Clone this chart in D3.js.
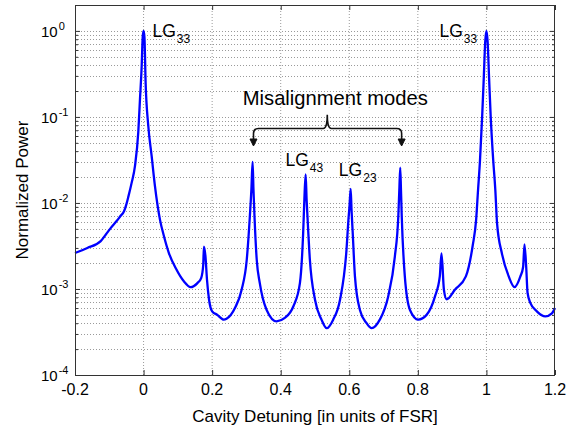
<!DOCTYPE html>
<html>
<head>
<meta charset="utf-8">
<script src="https://cdn.jsdelivr.net/npm/d3@7"></script>
<style>
  body { margin: 0; background: #fff; }
  svg { display: block; font-family: "Liberation Sans", Arial, Helvetica, sans-serif; }
</style>
</head>
<body>
<svg id="svg" width="578" height="431"></svg>
<script>
// cavity detuning (units of FSR) and normalized transmitted power
var detuning = [
  -0.200, -0.164, -0.125, -0.110, -0.096, -0.078, -0.068, -0.057, -0.050, -0.044,
  -0.035, -0.025, -0.0155, -0.0105, -0.0055, -0.0025, 0.000, 0.0025, 0.006, 0.0137,
  0.0236, 0.0332, 0.0478, 0.0595, 0.0741, 0.0936, 0.118, 0.137, 0.157, 0.168,
  0.174, 0.176, 0.1805, 0.185, 0.191, 0.200, 0.215, 0.234, 0.242, 0.2665,
  0.286, 0.301, 0.310, 0.3145, 0.318, 0.3205, 0.3235, 0.330, 0.339, 0.359,
  0.388, 0.412, 0.437, 0.456, 0.4655, 0.469, 0.4727, 0.4755, 0.478, 0.485,
  0.500, 0.519, 0.534, 0.553, 0.573, 0.592, 0.5975, 0.6005, 0.604, 0.6065,
  0.610, 0.6165, 0.631, 0.6505, 0.665, 0.689, 0.7135, 0.733, 0.743, 0.746,
  0.7486, 0.7507, 0.753, 0.762, 0.777, 0.801, 0.8255, 0.850, 0.864, 0.869,
  0.876, 0.884, 0.908, 0.940, 0.960, 0.970, 0.9755, 0.981, 0.9875, 0.9925,
  0.9965, 1.000, 1.0035, 1.0075, 1.0125, 1.019, 1.026, 1.031, 1.045, 1.065,
  1.082, 1.099, 1.107, 1.111, 1.116, 1.120, 1.128, 1.147, 1.172, 1.191,
  1.200
];
var power = [
  0.00262, 0.0030, 0.0036, 0.0043, 0.0051, 0.0062, 0.0070, 0.0080, 0.0097, 0.012,
  0.017, 0.027, 0.066, 0.16, 0.39, 0.85, 1.0, 0.85, 0.25, 0.079,
  0.035, 0.0157, 0.0064, 0.0041, 0.0026, 0.00175, 0.00122, 0.00105, 0.00117, 0.00134,
  0.0019, 0.0031, 0.0024, 0.00128, 0.00075, 0.00055, 0.00050, 0.00044, 0.00045, 0.00060,
  0.00098, 0.0022, 0.0070, 0.0144, 0.030, 0.0144, 0.0070, 0.0022, 0.00117, 0.00057,
  0.00042, 0.00046, 0.00063, 0.00117, 0.0045, 0.011, 0.0215, 0.011, 0.0070, 0.0022,
  0.00075, 0.00044, 0.00035, 0.00044, 0.00075, 0.0029, 0.0064, 0.0090, 0.0146, 0.0084,
  0.0045, 0.0014, 0.00057, 0.00040, 0.00035, 0.00044, 0.00082, 0.0024, 0.0070, 0.0144,
  0.0257, 0.0144, 0.0070, 0.0014, 0.00057, 0.00044, 0.00050, 0.00082, 0.0014, 0.0026,
  0.00098, 0.00076, 0.00098, 0.0014, 0.0032, 0.0064, 0.014, 0.030, 0.10, 0.30,
  0.75, 1.0, 0.75, 0.30, 0.10, 0.035, 0.014, 0.0058, 0.0026, 0.0014,
  0.00105, 0.0014, 0.0018, 0.0033, 0.0018, 0.0009, 0.00069, 0.00055, 0.00048, 0.00052,
  0.0006
];

var xTicks = [-0.2, 0, 0.2, 0.4, 0.6, 0.8, 1, 1.2];
var xTickLabels = ['-0.2', '0', '0.2', '0.4', '0.6', '0.8', '1', '1.2'];
var yTicks = [1e-4, 1e-3, 1e-2, 1e-1, 1];
var yTickExponents = ['-4', '-3', '-2', '-1', '0'];

var margin = {top: 5, right: 23, bottom: 56, left: 75};
var width = 578 - margin.left - margin.right;
var height = 431 - margin.top - margin.bottom;

var svg = d3.select('#svg');
var g = svg.append('g').attr('transform', 'translate(' + margin.left + ',' + margin.top + ')');

var x = d3.scaleLinear().domain([-0.2, 1.2]).range([0, width]);
var y = d3.scaleLog().domain([1e-4, 2]).range([height, 0]);

// minor log positions 2..9 in every decade
var yMinor = [];
yTicks.forEach(function(t) {
  for (var k = 2; k <= 9; k++) if (t * k < 2) yMinor.push(t * k);
});

// grid
var grid = g.append('g').attr('class', 'grid');
grid.selectAll('line.gx').data(xTicks.slice(1, -1)).enter().append('line')
    .attr('x1', function(d) { return x(d); }).attr('x2', function(d) { return x(d); })
    .attr('y1', 0).attr('y2', height);
grid.selectAll('line.gy').data(yTicks.concat(yMinor).filter(function(d) { return d > 1e-4; })).enter().append('line')
    .attr('x1', 0).attr('x2', width)
    .attr('y1', function(d) { return Math.round(y(d)) + 0.5; }).attr('y2', function(d) { return Math.round(y(d)) + 0.5; });
grid.selectAll('line')
    .attr('stroke', '#9a9a9a').attr('stroke-width', 1).attr('stroke-dasharray', '1,2');

// inward ticks on all four sides
function ticks(axis, tr) {
  var a = g.append('g').attr('transform', tr).call(axis);
  a.select('.domain').remove();
  a.selectAll('line').attr('stroke', '#333');
  a.selectAll('text').remove();
}
ticks(d3.axisBottom(x).tickValues(xTicks).tickSize(-5), 'translate(0,' + height + ')');
ticks(d3.axisTop(x).tickValues(xTicks).tickSize(-5), 'translate(0,0)');
ticks(d3.axisLeft(y).tickValues(yTicks).tickSize(-5), 'translate(0,0)');
ticks(d3.axisLeft(y).tickValues(yMinor).tickSize(-3), 'translate(0,0)');
ticks(d3.axisRight(y).tickValues(yTicks).tickSize(-5), 'translate(' + width + ',0)');
ticks(d3.axisRight(y).tickValues(yMinor).tickSize(-3), 'translate(' + width + ',0)');

// the trace
var line = d3.line()
    .x(function(d, i) { return x(detuning[i]); })
    .y(function(d) { return y(d); })
    .curve(d3.curveMonotoneX);
g.append('path')
    .attr('d', line(power))
    .attr('fill', 'none')
    .attr('stroke', '#0000ff')
    .attr('stroke-width', 2.3)
    .attr('stroke-linejoin', 'round');

// box
g.append('rect').attr('x', 0.5).attr('y', 0.5).attr('width', width - 1).attr('height', height)
    .attr('fill', 'none').attr('stroke', '#333').attr('stroke-width', 1);

// tick labels
g.selectAll('text.xt').data(xTicks).enter().append('text')
    .attr('x', function(d) { return x(d); })
    .attr('y', height + 20)
    .attr('text-anchor', 'middle')
    .attr('font-size', 16)
    .text(function(d, i) { return xTickLabels[i]; });

var yl = g.selectAll('text.yt').data(yTicks).enter().append('text')
    .attr('x', -34)
    .attr('y', function(d) { return y(d) + 6; })
    .attr('font-size', 15);
yl.append('tspan').text('10');
yl.append('tspan').attr('font-size', 11).attr('dy', -7).attr('dx', 1)
    .text(function(d, i) { return yTickExponents[i]; });

// axis titles
svg.append('text')
    .attr('x', margin.left + width / 2).attr('y', 422)
    .attr('text-anchor', 'middle').attr('font-size', 17)
    .text('Cavity Detuning [in units of FSR]');
svg.append('text')
    .attr('transform', 'translate(28,' + (margin.top + height / 2) + ') rotate(-90)')
    .attr('text-anchor', 'middle').attr('font-size', 17)
    .text('Normalized Power');

// mode labels
var modeLabels = [
  {x: 0.026, y: 0.86, base: 'LG', sub: '33'},
  {x: 0.863, y: 0.86, base: 'LG', sub: '33'},
  {x: 0.414, y: 0.0269, base: 'LG', sub: '43'},
  {x: 0.5696, y: 0.0205, base: 'LG', sub: '23'}
];
modeLabels.forEach(function(m) {
  var t = g.append('text').attr('x', x(m.x)).attr('y', y(m.y)).attr('font-size', 17.5);
  t.append('tspan').text(m.base);
  t.append('tspan').attr('font-size', 12).attr('dy', 6).attr('dx', 1).text(m.sub);
});

g.append('text')
    .attr('x', x(0.2893)).attr('y', y(0.137))
    .attr('font-size', 20.2)
    .text('Misalignment modes');

// brace with arrows, in data coordinates
var bL = x(0.3206), bR = x(0.7527), bC = x(0.5358);
var bY = y(0.0733), bTop = y(0.1057), bTip = y(0.0459);
var r = 5;
var brace = 'M' + bL + ',' + (bTip - 1) +
  ' L' + bL + ',' + (bY + r) +
  ' Q' + bL + ',' + bY + ' ' + (bL + r) + ',' + bY +
  ' L' + (bC - 4) + ',' + bY +
  ' Q' + bC + ',' + bY + ' ' + bC + ',' + bTop +
  ' Q' + bC + ',' + bY + ' ' + (bC + 4) + ',' + bY +
  ' L' + (bR - r) + ',' + bY +
  ' Q' + bR + ',' + bY + ' ' + bR + ',' + (bY + r) +
  ' L' + bR + ',' + (bTip - 1);
g.append('path').attr('d', brace)
    .attr('fill', 'none').attr('stroke', '#111').attr('stroke-width', 1.6);
[bL, bR].forEach(function(px) {
  g.append('path')
    .attr('d', 'M' + (px - 3.5) + ',' + (bTip - 7) + ' L' + px + ',' + bTip + ' L' + (px + 3.5) + ',' + (bTip - 7) + ' Z')
    .attr('fill', '#111').attr('stroke', '#111').attr('stroke-width', 1);
});
</script>
</body>
</html>
